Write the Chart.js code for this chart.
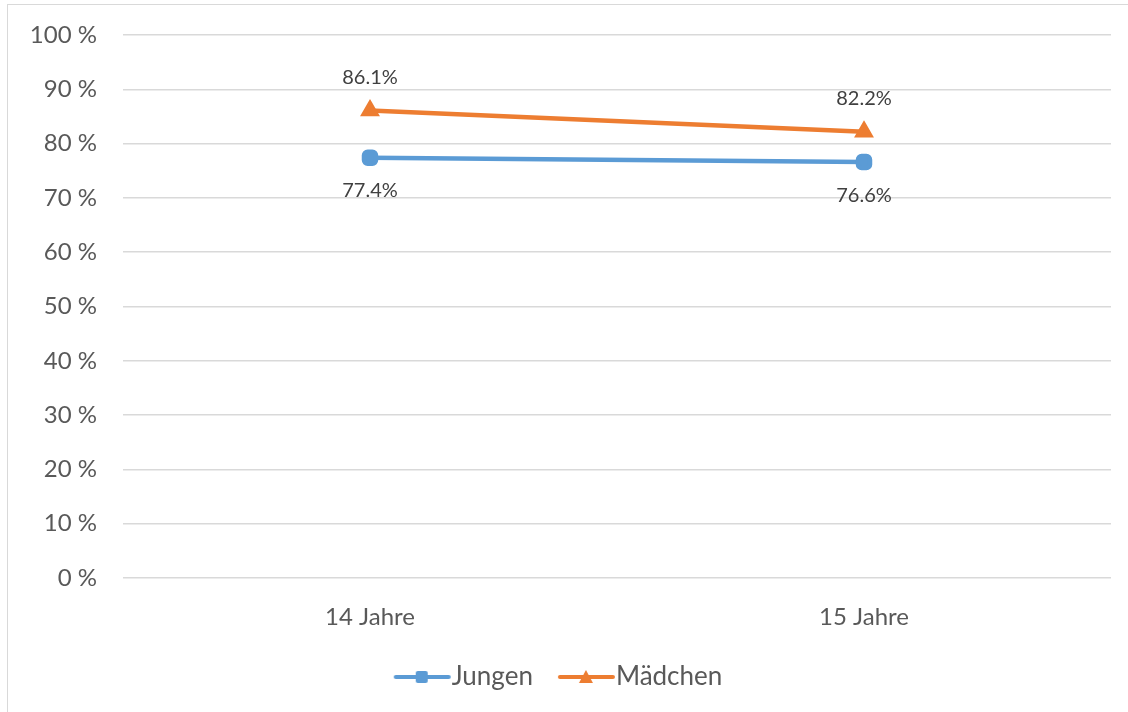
<!DOCTYPE html>
<html>
<head>
<meta charset="utf-8">
<script src="https://cdn.jsdelivr.net/npm/chart.js@4"></script>
<style>
    html, body { margin: 0; padding: 0; background: #fff; }
    #wrap { position: relative; width: 1128px; height: 712px; overflow: hidden; }
    #frame { position: absolute; left: 7px; top: 4px; width: 1200px; height: 800px; border: 1px solid #d9d9d9; box-sizing: border-box; pointer-events: none; }
    canvas { position: absolute; left: 0; top: 0; }
</style>
</head>
<body>
<div id="wrap">
    <div id="frame"></div>
    <canvas id="lineChart" width="1128" height="712"></canvas>
</div>
<script>
// --- chart data ---
const categories = ["14 Jahre", "15 Jahre"];
const jungenValues = [77.4, 76.6];
const maedchenValues = [86.1, 82.2];
const yTicks = [0, 10, 20, 30, 40, 50, 60, 70, 80, 90, 100];

const BLUE = "#5b9bd5";
const ORANGE = "#ed7d31";
const TEXT = "#595959";
const FONT = "Lato, 'Open Sans', sans-serif";

// legend swatch: short line with the marker in the middle
// (drawn shifted right inside a wider canvas so it sits close to the text)
function legendSwatch(color, shape) {
    const c = document.createElement("canvas");
    c.width = 76;
    c.height = 16;
    const g = c.getContext("2d");
    g.strokeStyle = color;
    g.fillStyle = color;
    g.lineWidth = 4;
    g.lineCap = "round";
    g.beginPath();
    g.moveTo(20, 8);
    g.lineTo(73, 8);
    g.stroke();
    g.beginPath();
    const cx = 46;
    if (shape === "rect") {
        g.roundRect(cx - 6, 2, 12, 12, 2);
    } else {
        g.moveTo(cx, 1);
        g.lineTo(cx + 7, 14);
        g.lineTo(cx - 7, 14);
        g.closePath();
    }
    g.fill();
    return c;
}

// value labels: Mädchen above the point, Jungen below
const valueLabels = {
    id: "valueLabels",
    afterDatasetsDraw(chart) {
        const ctx = chart.ctx;
        ctx.save();
        ctx.font = "20px " + FONT;
        ctx.fillStyle = "#404040";
        ctx.textAlign = "center";
        ctx.textBaseline = "middle";
        chart.data.datasets.forEach((ds, i) => {
            const meta = chart.getDatasetMeta(i);
            meta.data.forEach((pt, j) => {
                const off = ds.labelAbove ? -33 : 33;
                ctx.fillText(ds.data[j].toFixed(1) + "%", pt.x, pt.y + off);
            });
        });
        ctx.restore();
    }
};

const ctx = document.getElementById("lineChart").getContext("2d");
new Chart(ctx, {
    type: "line",
    data: {
        labels: categories,
        datasets: [
            {
                label: "Jungen",
                data: jungenValues,
                borderColor: BLUE,
                backgroundColor: BLUE,
                borderWidth: 4.5,
                pointStyle: "rectRounded",
                pointRadius: 7,
                labelAbove: false,
                swatch: legendSwatch(BLUE, "rect")
            },
            {
                label: "Mädchen",
                data: maedchenValues,
                borderColor: ORANGE,
                backgroundColor: ORANGE,
                borderWidth: 4.5,
                pointStyle: "triangle",
                pointRadius: 7,
                labelAbove: true,
                swatch: legendSwatch(ORANGE, "tri")
            }
        ]
    },
    options: {
        responsive: false,
        animation: false,
        layout: { padding: { top: 35, right: 17, left: 0, bottom: 12 } },
        plugins: {
            legend: {
                position: "bottom",
                labels: {
                    usePointStyle: true,
                    pointStyleWidth: 50,
                    padding: 20,
                    color: TEXT,
                    font: { family: FONT, size: 26 },
                    generateLabels(chart) {
                        return chart.data.datasets.map((ds, i) => ({
                            text: ds.label,
                            pointStyle: ds.swatch,
                            fillStyle: ds.borderColor,
                            strokeStyle: ds.borderColor,
                            lineWidth: 0,
                            fontColor: TEXT,
                            datasetIndex: i
                        }));
                    }
                }
            },
            tooltip: { enabled: false }
        },
        scales: {
            x: {
                offset: true,
                grid: { display: false, drawTicks: false },
                border: { display: false },
                ticks: { color: TEXT, font: { family: FONT, size: 24 }, padding: 25 },
                afterFit(scale) { scale.height = 66; }
            },
            y: {
                min: 0,
                max: 100,
                afterBuildTicks(scale) { scale.ticks = yTicks.map(v => ({ value: v })); },
                grid: { color: "#d9d9d9", lineWidth: 1.5, drawTicks: false },
                border: { display: false },
                ticks: {
                    color: TEXT,
                    font: { family: FONT, size: 24 },
                    padding: 26,
                    callback: v => v + " %"
                },
                afterFit(scale) {
                    scale.width = 123;
                    scale.paddingTop = 0;
                }
            }
        }
    },
    plugins: [valueLabels]
});
</script>
</body>
</html>
